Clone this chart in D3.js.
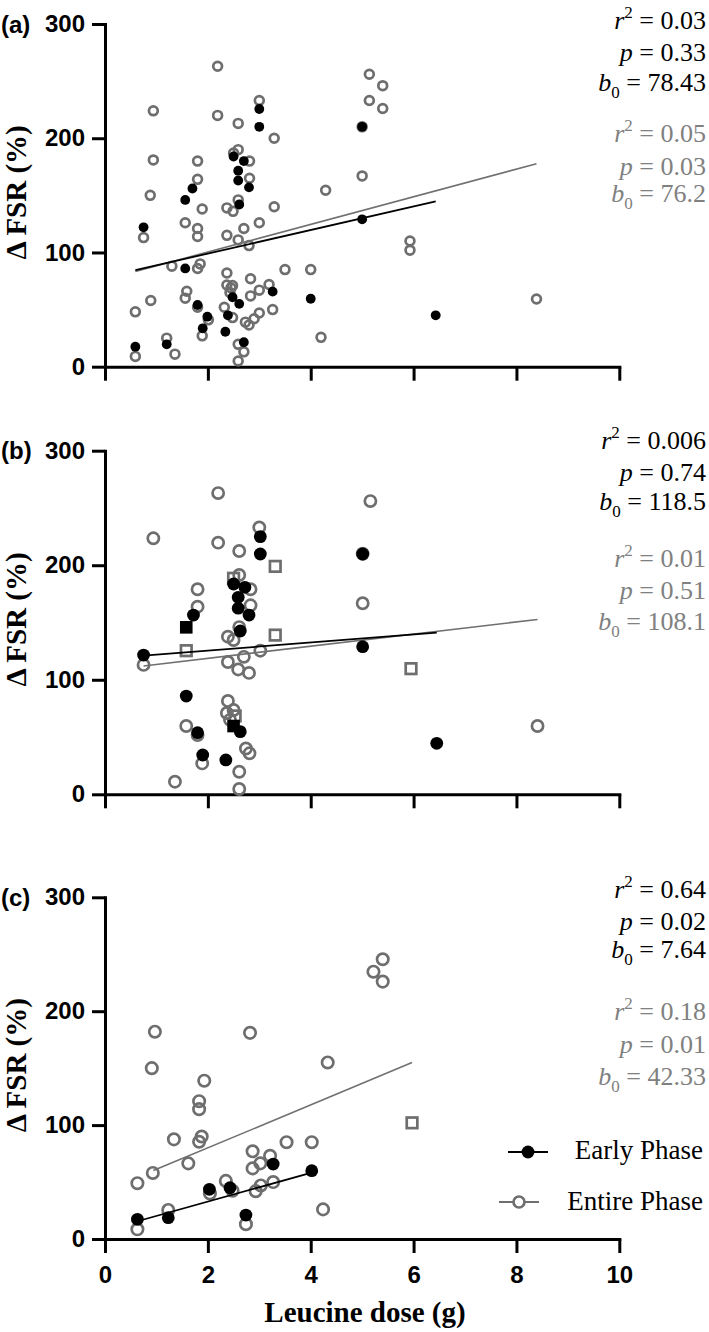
<!DOCTYPE html>
<html><head><meta charset="utf-8">
<script src="https://cdn.jsdelivr.net/npm/d3@7"></script>
<style>body{margin:0;background:#fff}svg{display:block}</style>
</head><body>
<svg id="chart" width="709" height="1332"></svg>
<script>
// ---------- data ----------
const xTicks = [0, 2, 4, 6, 8, 10];
const yTicks = [0, 100, 200, 300];
const panelLabels = ["(a)", "(b)", "(c)"];
const yTitle = "\u0394 FSR (%)";
const xTitle = "Leucine dose (g)";
const legendLabels = ["Early Phase", "Entire Phase"];

// panel (a)
const aEntireCircles = [[2.19,263],[0.94,224],[2.19,220],[3.0,233],[2.59,213],[3.29,200],[0.94,181],[1.80,180],[2.50,187],[2.59,190],[2.81,180],[1.80,164],[2.81,165],[0.88,150],[1.89,138],[2.37,139],[2.49,136],[2.59,146],[3.29,140],[1.56,126],[1.80,121],[1.80,114],[0.75,113],[2.37,115],[2.70,121],[3.00,126],[2.59,111],[2.80,106],[1.30,88],[1.80,86],[1.85,90],[3.50,85],[2.37,82],[2.37,71.5],[2.45,69],[2.48,71],[2.43,65],[2.83,77],[3.0,67],[3.19,72],[2.83,62],[1.59,66],[1.56,60],[0.89,58],[0.59,48],[1.80,52],[2.32,52],[2.48,43],[2.73,39],[2.80,36.5],[2.90,42],[3.0,47],[3.26,50],[2.01,41],[1.89,27],[1.20,25],[1.36,11],[0.59,9],[2.59,19.6],[2.70,13],[2.59,5],[5.14,256],[5.40,246],[5.14,233],[5.40,226],[5.0,167],[4.29,154.5],[5.93,110],[5.93,102],[4.0,85],[4.20,25.7],[8.39,59.3],[5.0,210]];
const aEntireSquares = [];
const aEarlyCircles = [[3.0,225.6],[3.0,210],[2.50,184],[2.70,180],[2.59,171.6],[2.59,163],[2.80,157],[1.70,156],[1.56,146],[2.61,142],[0.75,122],[1.56,86],[3.26,65.7],[2.48,60.8],[2.61,55],[1.80,54],[2.39,45],[1.99,43.8],[1.90,33.6],[2.34,30.6],[2.70,21.4],[1.20,19.6],[0.59,17.5],[5.0,210],[5.0,129],[4.0,59.5],[6.43,45]];
const aEarlySquares = [];

// panel (b)
const bEntireCircles = [[2.20,263],[0.94,223.5],[2.20,219.7],[3.0,233],[2.61,212.4],[2.61,191.5],[1.80,179],[2.83,179],[1.80,163.8],[2.83,165],[2.61,146],[2.39,137.6],[2.50,134.7],[3.02,125.4],[2.70,120],[2.39,115.5],[2.59,109],[2.80,106],[0.75,113],[2.39,81.5],[2.37,71],[2.43,65],[2.50,73.6],[1.58,59.6],[1.80,51.8],[2.74,40],[2.81,35.8],[1.89,27],[1.36,11],[2.61,19.7],[2.61,4.6],[5.16,256],[5.01,166.8],[8.41,59.6],[5.01,210]];
const bEntireSquares = [[3.31,199],[3.31,139],[1.58,125.4],[2.50,188.6],[2.53,68.4],[5.95,109.7]];
const bEarlyCircles = [[3.02,225],[3.02,209.8],[2.50,183.6],[2.72,180.7],[2.59,172],[2.59,162.5],[2.80,156.5],[1.72,156.5],[2.63,142.6],[0.75,121.6],[1.58,85.8],[1.80,53.8],[2.63,54.7],[1.90,34.3],[2.35,30],[5.01,209.8],[5.01,128.9],[6.45,44.5]];
const bEarlySquares = [[1.58,145.8],[2.50,59.6]];

// panel (c)
const cEntireCircles = [[0.97,182],[2.82,181],[0.91,150],[4.33,155],[1.93,139],[1.83,121],[1.83,114],[1.34,87.5],[1.83,85.4],[1.88,90],[3.53,85],[4.02,85],[2.87,77],[3.21,73],[3.02,66.4],[2.87,62],[1.62,66.4],[0.93,58],[0.63,49],[2.35,51],[2.48,42.4],[2.04,40],[3.27,50],[3.03,47],[2.93,42],[1.23,25.5],[4.24,26],[0.63,8.5],[2.74,13],[5.40,245.6],[5.22,234.7],[5.40,226]];
const cEntireSquares = [[5.97,102]];
const cEarlyCircles = [[0.63,17.3],[1.23,18.7],[2.03,43.6],[2.43,45],[2.74,21],[3.27,65.8],[4.02,60]];
const cEarlySquares = [];

// regression fits: [intercept b0, slope, x start, x end] for [early, entire]
const aFits = [[78.43, 10.3, 0.59, 6.43], [76.2, 12.1, 0.59, 8.39]];
const bFits = [[118.5, 3.5, 0.75, 6.45], [108.1, 5.3, 0.75, 8.41]];
const cFits = [[7.64, 12.6, 0.63, 4.02], [42.33, 18.85, 0.94, 5.97]];

// statistics: [r2, p, b0] for [early, entire]
const aStats = [["0.03", "0.33", "78.43"], ["0.05", "0.03", "76.2"]];
const bStats = [["0.006", "0.74", "118.5"], ["0.01", "0.51", "108.1"]];
const cStats = [["0.64", "0.02", "7.64"], ["0.18", "0.01", "42.33"]];

// ---------- layout ----------
const BLACK = "#000", GRAY = "#6e6e6e", GRAYTXT = "#808080";
const SANS = "'Liberation Sans', Arial, sans-serif";
const SERIF = "'Liberation Serif', 'Times New Roman', serif";
const svg = d3.select("#chart");
const x = d3.scaleLinear().domain([0, 10]).range([105, 619.3]);

const panels = [
  {top: 24, bottom: 366.7, label: panelLabels[0], eC: aEntireCircles, eS: aEntireSquares, kC: aEarlyCircles, kS: aEarlySquares, fits: aFits, stats: aStats,
   rOpen: 4.4, rFill: 4.9, statY: [[29, 61, 91], [142, 175, 202]], xLabels: false},
  {top: 450.7, bottom: 794.3, label: panelLabels[1], eC: bEntireCircles, eS: bEntireSquares, kC: bEarlyCircles, kS: bEarlySquares, fits: bFits, stats: bStats,
   rOpen: 5.6, rFill: 6.4, statY: [[449, 481, 510], [567, 599, 630]], xLabels: false},
  {top: 897.3, bottom: 1239, label: panelLabels[2], eC: cEntireCircles, eS: cEntireSquares, kC: cEarlyCircles, kS: cEarlySquares, fits: cFits, stats: cStats,
   rOpen: 5.7, rFill: 6.4, statY: [[898, 930, 958], [1020, 1053, 1085]], xLabels: true}
];

panels.forEach(p => {
  const y = d3.scaleLinear().domain([0, 300]).range([p.bottom, p.top]);
  const g = svg.append("g");

  // axes
  const ya = g.append("g").attr("transform", `translate(${x(0)},0)`)
    .call(d3.axisLeft(y).tickValues(yTicks).tickSize(13).tickSizeOuter(0).tickPadding(7));
  const xa = g.append("g").attr("transform", `translate(0,${p.bottom})`)
    .call(d3.axisBottom(x).tickValues(xTicks).tickSize(14).tickSizeOuter(0).tickPadding(13)
      .tickFormat(p.xLabels ? d3.format("d") : () => ""));
  [ya, xa].forEach(a => {
    a.selectAll("path.domain").attr("stroke", BLACK).attr("stroke-width", 3).attr("stroke-linecap", "square");
    a.selectAll(".tick line").attr("stroke", BLACK).attr("stroke-width", 3);
    a.selectAll(".tick text").attr("fill", BLACK)
      .style("font-family", SANS).style("font-weight", "bold").style("font-size", "24px");
  });

  // panel label
  g.append("text").attr("x", 1).attr("y", y(300) + 8.5).text(p.label)
    .style("font-family", SANS).style("font-weight", "bold").style("font-size", "24px");

  // y title
  g.append("text").attr("transform", `translate(26,${(p.top + p.bottom) / 2 - 3}) rotate(-90)`)
    .attr("text-anchor", "middle").text(yTitle)
    .style("font-family", SERIF).style("font-weight", "bold").style("font-size", "29px");

  const sw = 2.7;
  // entire phase (gray, open)
  g.append("g").selectAll("circle").data(p.eC).join("circle")
    .attr("cx", d => x(d[0])).attr("cy", d => y(d[1])).attr("r", p.rOpen)
    .attr("fill", "none").attr("stroke", GRAY).attr("stroke-width", sw);
  g.append("g").selectAll("rect").data(p.eS).join("rect")
    .attr("x", d => x(d[0]) - 5.3).attr("y", d => y(d[1]) - 5.3).attr("width", 10.6).attr("height", 10.6)
    .attr("fill", "none").attr("stroke", GRAY).attr("stroke-width", sw);

  // regression lines
  const line = d3.line().x(d => x(d[0])).y(d => y(d[1]));
  const fitPts = f => [[f[2], f[0] + f[1] * f[2]], [f[3], f[0] + f[1] * f[3]]];
  g.append("path").attr("d", line(fitPts(p.fits[1]))).attr("stroke", "#707070").attr("stroke-width", 1.6).attr("fill", "none");
  g.append("path").attr("d", line(fitPts(p.fits[0]))).attr("stroke", BLACK).attr("stroke-width", 1.8).attr("fill", "none");

  // early phase (black, filled)
  g.append("g").selectAll("circle").data(p.kC).join("circle")
    .attr("cx", d => x(d[0])).attr("cy", d => y(d[1])).attr("r", p.rFill).attr("fill", BLACK);
  g.append("g").selectAll("rect").data(p.kS).join("rect")
    .attr("x", d => x(d[0]) - 6.3).attr("y", d => y(d[1]) - 6.3).attr("width", 12.6).attr("height", 12.6).attr("fill", BLACK);

  // statistics
  p.stats.forEach((s, i) => {
    const col = i === 0 ? BLACK : GRAYTXT;
    const mk = yy => g.append("text").attr("x", 706).attr("y", yy).attr("text-anchor", "end").attr("fill", col)
      .style("font-family", SERIF).style("font-size", "26px");
    const t1 = mk(p.statY[i][0]);
    t1.append("tspan").style("font-style", "italic").text("r");
    t1.append("tspan").attr("dy", -11).style("font-size", "17px").text("2");
    t1.append("tspan").attr("dy", 11).text(" = " + s[0]);
    const t2 = mk(p.statY[i][1]);
    t2.append("tspan").style("font-style", "italic").text("p");
    t2.append("tspan").text(" = " + s[1]);
    const t3 = mk(p.statY[i][2]);
    t3.append("tspan").style("font-style", "italic").text("b");
    t3.append("tspan").attr("dy", 7).style("font-size", "17px").text("0");
    t3.append("tspan").attr("dy", -7).text(" = " + s[2]);
  });
});

// x title
svg.append("text").attr("x", 365).attr("y", 1322).attr("text-anchor", "middle").text(xTitle)
  .style("font-family", SERIF).style("font-weight", "bold").style("font-size", "29px");

// legend
const legend = svg.append("g");
const legRows = [
  {label: legendLabels[0], cx: 528, y: 1152, ty: 1159, filled: true},
  {label: legendLabels[1], cx: 519, y: 1202, ty: 1210, filled: false}
];
legRows.forEach(r => {
  legend.append("line").attr("x1", r.cx - 20).attr("x2", r.cx + 20).attr("y1", r.y).attr("y2", r.y)
    .attr("stroke", r.filled ? BLACK : GRAY).attr("stroke-width", 1.8);
  legend.append("circle").attr("cx", r.cx).attr("cy", r.y).attr("r", r.filled ? 6.4 : 5.5)
    .attr("fill", r.filled ? BLACK : "#fff").attr("stroke", r.filled ? "none" : GRAY).attr("stroke-width", 2.7);
  legend.append("text").attr("x", 703).attr("y", r.ty).attr("text-anchor", "end").text(r.label)
    .style("font-family", SERIF).style("font-size", "27px");
});
</script>
</body></html>
